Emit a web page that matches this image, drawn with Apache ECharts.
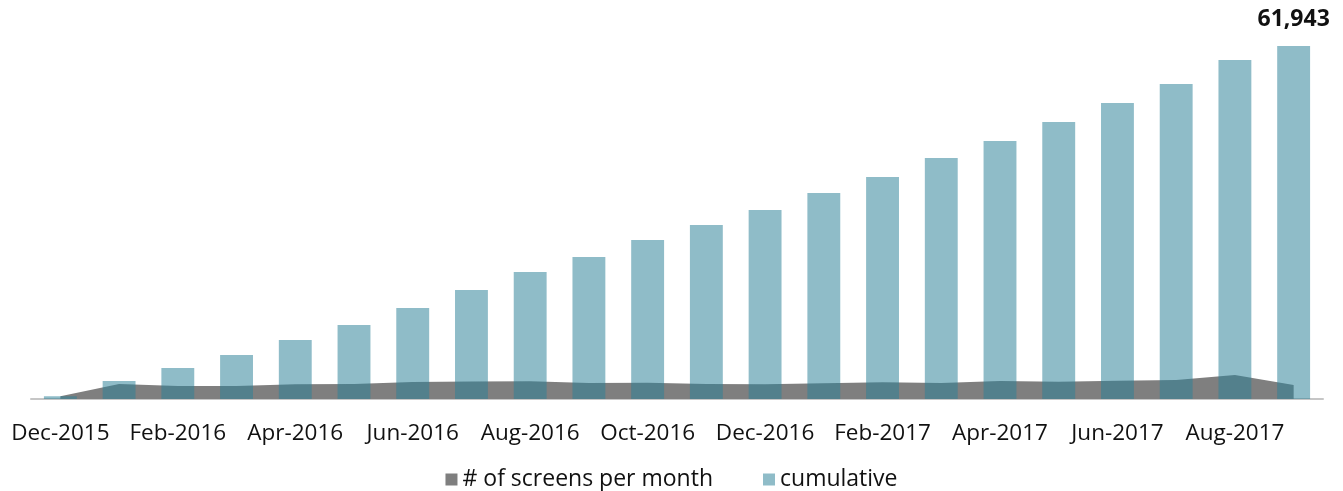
<!DOCTYPE html>
<html>
<head>
<meta charset="utf-8">
<style>
  html, body { margin: 0; padding: 0; background: #fff; }
  #chart { width: 1343px; height: 491px; }
</style>
<script src="https://cdn.jsdelivr.net/npm/echarts@6/dist/echarts.min.js"></script>
</head>
<body>
<div id="chart"></div>
<script>
// 月份类目
const months = [
  'Dec-2015', 'Jan-2016', 'Feb-2016', 'Mar-2016', 'Apr-2016', 'May-2016',
  'Jun-2016', 'Jul-2016', 'Aug-2016', 'Sep-2016', 'Oct-2016', 'Nov-2016',
  'Dec-2016', 'Jan-2017', 'Feb-2017', 'Mar-2017', 'Apr-2017', 'May-2017',
  'Jun-2017', 'Jul-2017', 'Aug-2017', 'Sep-2017'
];

// 每月数量（面积）
const perMonth = [
  500, 2650, 2300, 2300, 2600, 2650, 3000, 3050, 3100, 2800, 2850, 2650,
  2600, 2750, 2930, 2800, 3160, 3040, 3220, 3340, 4210, 2450
];

// 累计（柱）
const cumulative = [
  500, 3160, 5440, 7720, 10350, 12990, 15970, 19130, 22290, 24920, 27900, 30530,
  33170, 36150, 38960, 42290, 45280, 48610, 51950, 55280, 59490, 61943
];

const FONT = '"Open Sans", sans-serif';

const chart = echarts.init(document.getElementById('chart'));

chart.setOption({
  animation: false,
  textStyle: { fontFamily: FONT },
  grid: { left: 31, right: 20, top: 46, bottom: 92, containLabel: false },
  legend: {
    bottom: -5,
    left: 'center',
    icon: 'rect',
    itemWidth: 12,
    itemHeight: 12,
    itemGap: 50,
    textStyle: { fontSize: 23, color: '#111', fontFamily: FONT },
    data: ['# of screens per month', 'cumulative']
  },
  xAxis: {
    type: 'category',
    data: months,
    axisLine: { lineStyle: { color: '#c6c6c6', width: 2 } },
    axisTick: { show: false },
    axisLabel: {
      interval: 1,
      margin: 23,
      fontSize: 22.5,
      color: '#111',
      fontFamily: FONT
    }
  },
  yAxis: {
    type: 'value',
    min: 0,
    max: 'dataMax',
    show: false,
    splitLine: { show: false }
  },
  series: [
    {
      name: '# of screens per month',
      type: 'line',
      data: perMonth,
      symbol: 'none',
      z: 1,
      itemStyle: { color: '#7f7f7f' },
      lineStyle: { width: 0, color: '#7f7f7f' },
      areaStyle: { color: '#7f7f7f', opacity: 1 }
    },
    {
      name: 'cumulative',
      type: 'bar',
      barCategoryGap: '44%',
      z: 3,
      itemStyle: { color: 'rgba(43,128,151,0.53)' },
      data: cumulative.map((v, i) => i === cumulative.length - 1 ? {
        value: v,
        label: {
          show: true,
          position: 'top',
          distance: 15,
          fontSize: 23,
          fontWeight: 'bold',
          color: '#111',
          fontFamily: FONT,
          formatter: p => p.value.toLocaleString('en-US')
        }
      } : v)
    }
  ]
});
</script>
</body>
</html>
